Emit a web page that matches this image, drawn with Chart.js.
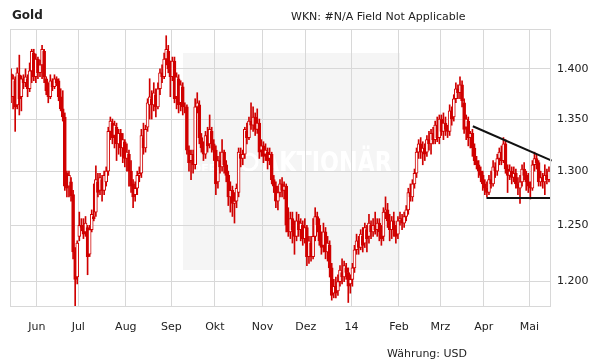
<!DOCTYPE html>
<html>
<head>
<meta charset="utf-8">
<script src="https://cdn.jsdelivr.net/npm/chart.js@4"></script>
<style>
  body { margin: 0; background: #fff; }
  #wrap { position: relative; width: 611px; height: 364px; font-family: "DejaVu Sans", sans-serif; color: #222; }
  #wrap canvas { position: absolute; left: 0; top: 0; }
  .txt { position: absolute; font-size: 11px; line-height: 14px; white-space: nowrap; }
  #title { left: 12px; top: 8px; font-size: 12px; font-weight: bold; }
  #wkn { left: 291px; top: 10px; }
  #currency { left: 387px; top: 347px; }
</style>
</head>
<body>
<div id="wrap">
  <canvas id="goldChart" width="611" height="364"></canvas>
  <div class="txt" id="title">Gold</div>
  <div class="txt" id="wkn">WKN: #N/A Field Not Applicable</div>
  <div class="txt" id="currency">Währung: USD</div>
</div>
<script>
// Monatsachse (Index = Handelstag ab 15.05.2013)
const monthLabels = ['Jun', 'Jul', 'Aug', 'Sep', 'Okt', 'Nov', 'Dez', '14', 'Feb', 'Mrz', 'Apr', 'Mai'];
const monthStarts = [13, 33, 56, 78, 99, 122, 143, 165, 188, 208, 229, 251];
const yTicks = [1200, 1250, 1300, 1350, 1400];

// Tageskurse (Open / High / Low / Close), USD
const opens = [1395,1372,1388,1364,1394,1372,1390,1386,1390,1380,1398,1416,1392,1410,1396,1404,1418,1390,1378,1372,
  1388,1382,1390,1388,1372,1360,1352,1298,1286,1290,1278,1226,1204,1240,1250,1250,1244,1248,1224,1246,
  1258,1262,1290,1282,1292,1282,1290,1300,1338,1346,1334,1342,1326,1336,1322,1328,1312,1316,1300,1288,
  1278,1284,1296,1298,1332,1322,1342,1364,1370,1364,1374,1362,1380,1396,1392,1410,1418,1402,1392,1408,
  1372,1390,1366,1382,1362,1362,1320,1310,1316,1306,1362,1364,1332,1322,1316,1334,1326,1338,1326,1320,
  1290,1310,1304,1318,1306,1296,1276,1282,1270,1272,1280,1316,1312,1316,1338,1332,1348,1344,1352,1340,
  1346,1320,1324,1316,1318,1312,1316,1292,1286,1272,1280,1288,1282,1286,1252,1244,1256,1246,1240,1254,
  1246,1250,1238,1248,1222,1234,1222,1240,1258,1250,1236,1232,1244,1226,1232,1212,1190,1196,1192,1200,
  1208,1204,1212,1208,1198,1202,1212,1228,1236,1230,1240,1234,1246,1240,1250,1244,1250,1246,1252,1244,
  1240,1262,1264,1254,1246,1254,1246,1242,1254,1256,1252,1258,1264,1280,1276,1288,1298,1318,1326,1318,
  1322,1318,1330,1326,1336,1330,1344,1332,1350,1338,1346,1340,1338,1358,1352,1370,1380,1376,1384,1366,
  1342,1348,1332,1336,1322,1310,1306,1300,1296,1288,1284,1280,1292,1288,1304,1300,1312,1318,1310,1326,
  1302,1296,1300,1294,1298,1288,1284,1290,1302,1296,1290,1286,1284,1306,1312,1308,1290,1294,1290,1296,
  1292];
const highs = [1400,1394,1392,1401,1414,1393,1394,1400,1394,1406,1420,1420,1415,1412,1409,1424,1420,1392,1386,1394,
  1390,1394,1392,1390,1380,1378,1356,1300,1300,1294,1282,1230,1236,1262,1256,1256,1258,1250,1250,1264,
  1288,1305,1298,1298,1296,1300,1304,1342,1352,1350,1348,1346,1340,1340,1336,1330,1326,1320,1310,1292,
  1290,1300,1304,1340,1346,1344,1370,1390,1378,1386,1380,1386,1400,1404,1416,1434,1424,1408,1412,1412,
  1396,1394,1388,1386,1366,1364,1324,1320,1320,1370,1376,1368,1336,1328,1338,1342,1354,1342,1330,1324,
  1314,1318,1330,1320,1310,1300,1290,1286,1280,1288,1322,1322,1320,1342,1346,1352,1366,1362,1356,1360,
  1350,1330,1328,1326,1322,1322,1318,1296,1290,1286,1292,1294,1290,1288,1266,1262,1262,1254,1262,1260,
  1256,1254,1256,1250,1240,1240,1256,1266,1262,1256,1244,1252,1248,1240,1236,1216,1202,1204,1206,1214,
  1220,1218,1216,1212,1206,1216,1232,1242,1240,1246,1248,1252,1250,1260,1254,1256,1262,1256,1256,1250,
  1266,1276,1270,1260,1258,1262,1250,1258,1262,1260,1262,1268,1284,1288,1292,1302,1322,1330,1332,1328,
  1326,1334,1338,1340,1342,1348,1352,1354,1354,1356,1352,1344,1364,1362,1374,1386,1384,1392,1388,1370,
  1354,1352,1338,1340,1326,1314,1310,1304,1300,1292,1290,1296,1300,1310,1308,1316,1322,1324,1332,1330,
  1306,1306,1304,1304,1302,1294,1296,1306,1308,1300,1298,1290,1310,1318,1316,1310,1300,1298,1306,1302,
  1304];
const lows = [1366,1360,1338,1360,1354,1358,1380,1382,1372,1377,1386,1388,1386,1390,1392,1390,1386,1374,1366,1370,
  1378,1380,1383,1368,1358,1348,1282,1276,1276,1272,1220,1179,1198,1236,1245,1238,1240,1206,1222,1244,
  1254,1258,1276,1278,1272,1278,1286,1296,1330,1326,1322,1310,1316,1314,1308,1304,1300,1286,1280,1266,
  1272,1278,1290,1294,1316,1318,1338,1350,1350,1358,1352,1360,1374,1386,1390,1404,1396,1372,1388,1366,
  1360,1356,1358,1354,1356,1316,1300,1292,1298,1302,1356,1326,1318,1310,1312,1318,1322,1318,1310,1278,
  1284,1298,1300,1298,1290,1268,1262,1258,1252,1266,1276,1304,1306,1312,1326,1330,1340,1338,1334,1336,
  1312,1314,1308,1310,1302,1306,1288,1280,1266,1264,1276,1276,1274,1244,1240,1238,1234,1224,1236,1240,
  1236,1232,1234,1214,1216,1218,1220,1236,1244,1232,1224,1226,1220,1218,1204,1184,1186,1186,1188,1196,
  1198,1200,1202,1182,1190,1196,1208,1224,1224,1228,1226,1230,1226,1234,1238,1240,1242,1240,1236,1232,
  1236,1256,1248,1236,1238,1240,1234,1238,1250,1246,1248,1254,1260,1272,1272,1284,1294,1312,1312,1306,
  1310,1314,1320,1316,1326,1326,1328,1326,1334,1330,1334,1332,1334,1344,1348,1366,1370,1370,1362,1336,
  1330,1324,1322,1314,1306,1302,1294,1290,1282,1278,1276,1278,1284,1286,1294,1296,1306,1306,1308,1298,
  1280,1292,1288,1290,1284,1278,1270,1286,1292,1282,1280,1274,1282,1300,1302,1286,1286,1284,1278,1288,
  1290];
const closes = [1372,1390,1362,1396,1370,1390,1386,1392,1380,1398,1418,1392,1410,1396,1404,1420,1392,1378,1372,1388,
  1382,1390,1386,1372,1360,1352,1286,1284,1296,1277,1226,1202,1234,1250,1248,1242,1252,1222,1246,1260,
  1256,1292,1280,1294,1282,1296,1300,1338,1348,1332,1344,1326,1336,1322,1330,1312,1318,1300,1286,1276,
  1284,1296,1298,1334,1322,1340,1366,1372,1364,1376,1362,1380,1396,1392,1410,1420,1400,1392,1408,1370,
  1392,1364,1384,1362,1362,1320,1308,1316,1306,1362,1366,1332,1322,1316,1334,1324,1340,1326,1320,1288,
  1310,1304,1318,1306,1296,1276,1282,1270,1272,1284,1318,1312,1316,1340,1332,1348,1344,1352,1340,1346,
  1318,1324,1314,1320,1310,1316,1292,1286,1272,1280,1288,1282,1286,1250,1244,1256,1246,1240,1254,1246,
  1252,1238,1248,1222,1236,1222,1240,1258,1250,1236,1230,1244,1226,1234,1212,1188,1196,1190,1200,1210,
  1204,1214,1208,1196,1202,1212,1228,1236,1230,1242,1232,1248,1238,1252,1244,1250,1246,1252,1244,1238,
  1262,1264,1254,1246,1254,1246,1240,1254,1256,1252,1258,1264,1280,1276,1288,1298,1318,1326,1318,1322,
  1316,1330,1326,1336,1330,1344,1332,1350,1338,1346,1340,1338,1358,1350,1370,1380,1376,1384,1368,1340,
  1350,1332,1336,1322,1310,1306,1300,1296,1288,1284,1280,1292,1288,1304,1300,1312,1318,1310,1326,1302,
  1296,1300,1294,1298,1288,1284,1290,1302,1296,1290,1286,1284,1306,1312,1308,1290,1294,1290,1296,1292,
  1300];

// Trendlinien (Index, Kurs)
const resistanceLine = [[223.2, 1343], [261.3, 1310]];
const supportLine = [[229.8, 1275], [260.7, 1275]];

const candleRed = '#d00000';
const gridGrey = '#d8d8d8';
const axisFont = { family: 'DejaVu Sans', size: 11 };

// Hintergrund-Wasserzeichen und Rahmen
const frame = {
    id: 'frame',
    beforeDraw(chart) {
        const ctx = chart.ctx;
        const a = chart.chartArea;
        ctx.save();
        ctx.fillStyle = '#f5f5f5';
        ctx.fillRect(a.left + 173, a.top + 24, 217, 217);
        ctx.fillStyle = '#ffffff';
        ctx.strokeStyle = '#ffffff';
        ctx.font = 'bold 11px "DejaVu Sans"';
        ctx.textBaseline = 'alphabetic';
        ctx.fillText('DER', a.left + 182, a.top + 143);
        ctx.lineWidth = 3;
        ctx.beginPath();
        ctx.arc(a.left + 239, a.top + 133, 8, 0, Math.PI * 2);
        ctx.stroke();
        ctx.font = 'bold 28px "DejaVu Sans Condensed", "DejaVu Sans"';
        ctx.fillText('AKTIONÄR', a.left + 252, a.top + 143, 130);
        ctx.restore();
    },
    afterDraw(chart) {
        const ctx = chart.ctx;
        const a = chart.chartArea;
        ctx.save();
        ctx.strokeStyle = gridGrey;
        ctx.lineWidth = 1;
        ctx.strokeRect(a.left + 0.5, a.top + 0.5, a.right - a.left, a.bottom - a.top);
        ctx.restore();
    }
};

const wickData = highs.map((h, i) => ({ x: i, y: [lows[i], h] }));
const bodyData = opens.map((o, i) => ({ x: i, y: [o, closes[i]] }));
const bodyFill = opens.map((o, i) => closes[i] > o ? '#ffffff' : candleRed);

new Chart(document.getElementById('goldChart'), {
    type: 'bar',
    data: {
        datasets: [
            {
                type: 'line',
                data: resistanceLine.map(p => ({ x: p[0], y: p[1] })),
                borderColor: '#111',
                borderWidth: 2,
                pointRadius: 0,
                clip: false,
                order: 0
            },
            {
                type: 'line',
                data: supportLine.map(p => ({ x: p[0], y: p[1] })),
                borderColor: '#111',
                borderWidth: 2,
                pointRadius: 0,
                clip: false,
                order: 0
            },
            {
                data: bodyData,
                backgroundColor: bodyFill,
                borderColor: candleRed,
                borderWidth: 1,
                borderSkipped: false,
                barThickness: 3,
                grouped: false,
                order: 1
            },
            {
                data: wickData,
                backgroundColor: candleRed,
                barThickness: 1,
                grouped: false,
                order: 2
            }
        ]
    },
    options: {
        responsive: false,
        animation: false,
        layout: { padding: { left: 10, top: 29, right: 0, bottom: 0 } },
        plugins: { legend: { display: false }, tooltip: { enabled: false } },
        scales: {
            x: {
                type: 'linear',
                min: -0.5,
                max: 260.5,
                offset: false,
                grid: { color: gridGrey, drawTicks: false, offset: false },
                border: { display: false },
                afterBuildTicks: function(scale) {
                    scale.ticks = monthStarts.map(v => ({ value: v - 0.5 }));
                },
                afterFit: function(scale) { scale.height = 58; },
                ticks: {
                    autoSkip: false,
                    maxRotation: 0,
                    padding: 15,
                    color: '#222',
                    font: axisFont,
                    callback: function(value, index) { return monthLabels[index]; }
                }
            },
            y: {
                type: 'logarithmic',
                position: 'right',
                min: 1179,
                max: 1441,
                grid: { color: gridGrey, drawTicks: false },
                border: { display: false },
                afterBuildTicks: function(scale) {
                    scale.ticks = yTicks.map(v => ({ value: v }));
                },
                afterFit: function(scale) { scale.width = 61; },
                ticks: {
                    padding: 7,
                    color: '#222',
                    font: axisFont,
                    callback: function(value) { return value.toLocaleString('de-DE'); }
                }
            }
        }
    },
    plugins: [frame]
});
</script>
</body>
</html>
